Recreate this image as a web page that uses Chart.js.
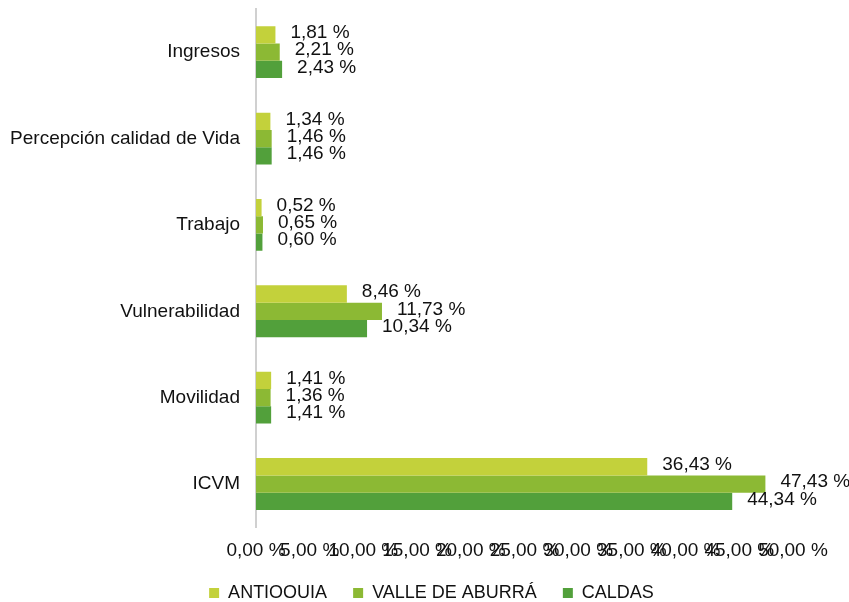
<!DOCTYPE html>
<html><head><meta charset="utf-8">
<script src="https://cdn.jsdelivr.net/npm/chart.js@4/dist/chart.umd.min.js"></script>
<style>html,body{margin:0;padding:0;background:#fff}#wrap{width:849px;height:602px}</style>
</head><body><div id="wrap"><canvas id="c" width="849" height="602"></canvas></div>
<script>
const categories = ["Ingresos","Percepción calidad de Vida","Trabajo","Vulnerabilidad","Movilidad","ICVM"];
const antioquia = [1.81,1.34,0.52,8.46,1.41,36.43];
const valle = [2.21,1.46,0.65,11.73,1.36,47.43];
const caldas = [2.43,1.46,0.60,10.34,1.41,44.34];
const seriesNames = ["ANTIOQUIA","VALLE DE ABURRÁ","CALDAS"];
const xTicks = [0,5,10,15,20,25,30,35,40,45,50];

const fmt = v => v.toFixed(2).replace('.', ',') + ' %';
const FONT = "'Liberation Sans', Arial, sans-serif";
const FS = 19;

const labelPlugin = {
  id: 'valueLabels',
  beforeLayout(chart) {
    const lg = chart.legend;
    if (lg && !lg._patched) {
      const orig = Object.getPrototypeOf(lg).fit;
      lg.fit = function () { orig.call(this); this.height -= 14; };
      lg._patched = true;
    }
  },
  afterLayout(chart) {
    const lg = chart.legend;
    if (lg) {
      lg.left += 35; lg.right += 35;
      lg.top -= 16; lg.bottom -= 16;
    }
  },
  afterDatasetsDraw(chart) {
    const ctx = chart.ctx;
    ctx.save();
    ctx.font = FS + "px " + FONT;
    ctx.fillStyle = "#111";
    ctx.textBaseline = "middle";
    ctx.textAlign = "left";
    chart.data.datasets.forEach((ds, i) => {
      chart.getDatasetMeta(i).data.forEach((bar, j) => {
        ctx.fillText(fmt(ds.data[j]), bar.x + 15, bar.y - 2);
      });
    });
    ctx.restore();
  }
};

new Chart(document.getElementById('c'), {
  type: 'bar',
  data: {
    labels: categories,
    datasets: [
      {label: seriesNames[0], data: antioquia, backgroundColor: '#C3D13B'},
      {label: seriesNames[1], data: valle, backgroundColor: '#8CB934'},
      {label: seriesNames[2], data: caldas, backgroundColor: '#52A03B'}
    ]
  },
  options: {
    indexAxis: 'y',
    responsive: false,
    animation: false,
    devicePixelRatio: 1,
    layout: {padding: {top: 9, right: 56, left: 0, bottom: -12}},
    datasets: {bar: {barPercentage: 1, categoryPercentage: 0.6}},
    plugins: {
      legend: {
        position: 'bottom',
        labels: {boxWidth: 10, boxHeight: 10, font: {size: 18, family: FONT}, color: '#111', padding: 26}
      },
      tooltip: {enabled: false}
    },
    scales: {
      x: {
        min: 0, max: 50,
        afterBuildTicks: s => { s.ticks = xTicks.map(v => ({value: v})); },
        grid: {display: false, drawTicks: false},
        border: {display: false},
        ticks: {autoSkip: false, maxRotation: 0, minRotation: 0, padding: 12, font: {size: FS, family: FONT}, color: '#111', callback: v => fmt(v)}
      },
      y: {
        grid: {display: false, drawTicks: false},
        border: {display: true, color: '#d0d0d0', width: 2},
        afterFit: s => { s.width = 256; s.paddingTop = 0; s.paddingBottom = 0; },
        ticks: {padding: 16, font: {size: FS, family: FONT}, color: '#111'}
      }
    }
  },
  plugins: [labelPlugin]
});
</script></body></html>
